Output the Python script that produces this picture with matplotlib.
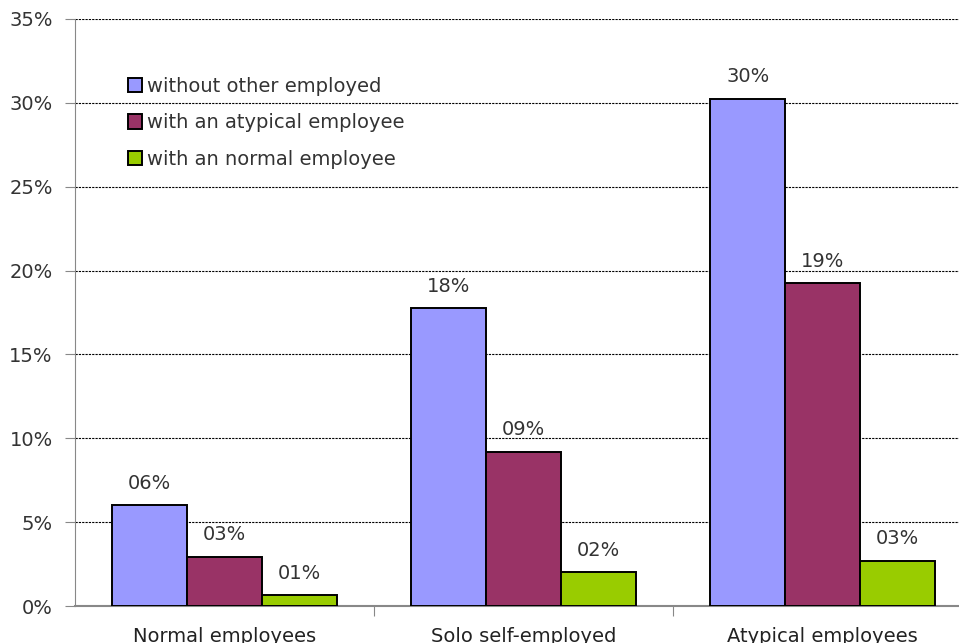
import numpy as np
import matplotlib.pyplot as plt

categories = ["Normal employees", "Solo self-employed", "Atypical employees"]
series_names = ["without other employed", "with an atypical employee", "with an normal employee"]
without_other = [6.0, 17.75, 30.25]
with_atypical = [2.95, 9.2, 19.25]
with_normal = [0.65, 2.0, 2.7]
colors = ["#9999FF", "#993366", "#99CC00"]

plt.rcParams["font.family"] = ["DejaVu Sans"]

fig = plt.figure(figsize=(9.59, 6.43), dpi=100)
ax = fig.add_axes([75 / 959, 37 / 643, 897 / 959, 587 / 643])

x = np.arange(len(categories))
w = 0.25
for i, (vals, name) in enumerate(zip([without_other, with_atypical, with_normal], series_names)):
    pos = x + (i - 1) * w
    bars = ax.bar(pos, vals, w, color=colors[i], edgecolor="black", linewidth=1.4,
                  label=name, zorder=3)
    for b, v in zip(bars, vals):
        ax.annotate(f"{round(v):02d}%", (b.get_x() + b.get_width() / 2, v),
                    xytext=(0, 9), textcoords="offset points", ha="center",
                    va="bottom", fontsize=14, color="#333333")

ax.set_xlim(-0.5, 2.5)
ax.set_ylim(0, 35)
ax.set_yticks(range(0, 36, 5))
ax.set_yticklabels([f"{t}%" for t in range(0, 36, 5)], fontsize=14, color="#333333")
ax.yaxis.grid(True, linestyle=(0, (2, 1)), color="black", linewidth=0.8, zorder=0)
ax.set_axisbelow(True)

ax.set_xticks([0.5, 1.5])
ax.set_xticklabels([])
ax.set_xticks(x, minor=True)
ax.set_xticklabels(categories, minor=True, fontsize=14, color="#222222")
ax.tick_params(axis="x", which="minor", length=0, pad=15)
ax.tick_params(axis="x", which="major", length=7, color="#888888", direction="out")
ax.tick_params(axis="y", length=7, color="#888888", direction="out", pad=9)

for s in ["top", "right"]:
    ax.spines[s].set_visible(False)
ax.spines["left"].set_color("#888888")
ax.spines["bottom"].set_color("#888888")
ax.spines["bottom"].set_linewidth(1.5)

leg = ax.legend(loc="upper left", bbox_to_anchor=(0.05, 0.915), frameon=False,
                fontsize=14, labelspacing=0.9, handlelength=0.75, handleheight=0.75,
                handletextpad=0.25, borderaxespad=0)
for t in leg.get_texts():
    t.set_color("#333333")

fig.savefig("out.png", dpi=100)
